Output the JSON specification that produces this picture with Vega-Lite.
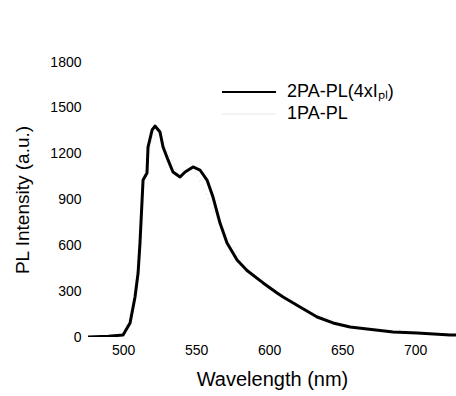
{
  "$schema": "https://vega.github.io/schema/vega-lite/v6.json",
  "autosize": {"type": "none"},
  "width": 368,
  "height": 275,
  "padding": {"left": 88, "top": 62, "right": 0, "bottom": 59},
  "background": "white",
  "config": {
    "view": {"stroke": null},
    "font": "Liberation Sans"
  },
  "data": {
    "values": [
      {"series": "2PA-PL(4xIₚₗ)", "wl": 476.0, "pl": 0},
      {"series": "2PA-PL(4xIₚₗ)", "wl": 490.0, "pl": 5},
      {"series": "2PA-PL(4xIₚₗ)", "wl": 500.0, "pl": 13},
      {"series": "2PA-PL(4xIₚₗ)", "wl": 504.8, "pl": 92},
      {"series": "2PA-PL(4xIₚₗ)", "wl": 508.2, "pl": 262},
      {"series": "2PA-PL(4xIₚₗ)", "wl": 510.3, "pl": 419},
      {"series": "2PA-PL(4xIₚₗ)", "wl": 511.6, "pl": 615},
      {"series": "2PA-PL(4xIₚₗ)", "wl": 513.7, "pl": 1027},
      {"series": "2PA-PL(4xIₚₗ)", "wl": 516.4, "pl": 1073},
      {"series": "2PA-PL(4xIₚₗ)", "wl": 517.1, "pl": 1243},
      {"series": "2PA-PL(4xIₚₗ)", "wl": 519.9, "pl": 1355},
      {"series": "2PA-PL(4xIₚₗ)", "wl": 521.9, "pl": 1381},
      {"series": "2PA-PL(4xIₚₗ)", "wl": 525.3, "pl": 1342},
      {"series": "2PA-PL(4xIₚₗ)", "wl": 527.4, "pl": 1244},
      {"series": "2PA-PL(4xIₚₗ)", "wl": 530.8, "pl": 1159},
      {"series": "2PA-PL(4xIₚₗ)", "wl": 534.2, "pl": 1080},
      {"series": "2PA-PL(4xIₚₗ)", "wl": 539.0, "pl": 1047},
      {"series": "2PA-PL(4xIₚₗ)", "wl": 542.5, "pl": 1080},
      {"series": "2PA-PL(4xIₚₗ)", "wl": 547.9, "pl": 1113},
      {"series": "2PA-PL(4xIₚₗ)", "wl": 552.7, "pl": 1093},
      {"series": "2PA-PL(4xIₚₗ)", "wl": 557.5, "pl": 1027},
      {"series": "2PA-PL(4xIₚₗ)", "wl": 561.6, "pl": 916},
      {"series": "2PA-PL(4xIₚₗ)", "wl": 566.4, "pl": 746},
      {"series": "2PA-PL(4xIₚₗ)", "wl": 571.2, "pl": 615},
      {"series": "2PA-PL(4xIₚₗ)", "wl": 578.1, "pl": 504},
      {"series": "2PA-PL(4xIₚₗ)", "wl": 584.9, "pl": 435},
      {"series": "2PA-PL(4xIₚₗ)", "wl": 595.9, "pl": 354},
      {"series": "2PA-PL(4xIₚₗ)", "wl": 605.5, "pl": 288},
      {"series": "2PA-PL(4xIₚₗ)", "wl": 609.6, "pl": 262},
      {"series": "2PA-PL(4xIₚₗ)", "wl": 621.2, "pl": 196},
      {"series": "2PA-PL(4xIₚₗ)", "wl": 632.9, "pl": 131},
      {"series": "2PA-PL(4xIₚₗ)", "wl": 643.8, "pl": 92},
      {"series": "2PA-PL(4xIₚₗ)", "wl": 655.5, "pl": 65},
      {"series": "2PA-PL(4xIₚₗ)", "wl": 667.1, "pl": 52},
      {"series": "2PA-PL(4xIₚₗ)", "wl": 684.9, "pl": 33},
      {"series": "2PA-PL(4xIₚₗ)", "wl": 701.4, "pl": 26},
      {"series": "2PA-PL(4xIₚₗ)", "wl": 724.0, "pl": 13},
      {"series": "2PA-PL(4xIₚₗ)", "wl": 728.0, "pl": 13},
      {"series": "1PA-PL", "wl": 476.0, "pl": 0},
      {"series": "1PA-PL", "wl": 500.0, "pl": 13},
      {"series": "1PA-PL", "wl": 508.2, "pl": 262},
      {"series": "1PA-PL", "wl": 513.7, "pl": 1027},
      {"series": "1PA-PL", "wl": 521.9, "pl": 1381},
      {"series": "1PA-PL", "wl": 539.0, "pl": 1047},
      {"series": "1PA-PL", "wl": 547.9, "pl": 1113},
      {"series": "1PA-PL", "wl": 566.4, "pl": 746},
      {"series": "1PA-PL", "wl": 584.9, "pl": 435},
      {"series": "1PA-PL", "wl": 621.2, "pl": 196},
      {"series": "1PA-PL", "wl": 655.5, "pl": 65},
      {"series": "1PA-PL", "wl": 728.0, "pl": 13}
    ]
  },
  "encoding": {
    "x": {
      "field": "wl", "type": "quantitative",
      "scale": {"domain": [476, 728], "nice": false, "zero": false},
      "axis": {
        "values": [500, 550, 600, 650, 700],
        "format": "d",
        "title": "Wavelength (nm)",
        "domain": false, "ticks": false, "grid": false,
        "labelFont": "Liberation Sans", "labelFontSize": 14, "labelColor": "black",
        "labelPadding": 6,
        "titleFont": "Liberation Sans", "titleFontSize": 20, "titleFontWeight": "normal", "titleColor": "black",
        "titlePadding": 12
      }
    },
    "y": {
      "field": "pl", "type": "quantitative",
      "scale": {"domain": [0, 1800], "nice": false},
      "axis": {
        "values": [0, 300, 600, 900, 1200, 1500, 1800],
        "format": "d",
        "title": "PL Intensity (a.u.)",
        "domain": false, "ticks": false, "grid": false,
        "labelFont": "Liberation Sans", "labelFontSize": 14, "labelColor": "black",
        "labelPadding": 7,
        "titleFont": "Liberation Sans", "titleFontSize": 19, "titleFontWeight": "normal", "titleColor": "black",
        "titlePadding": 17
      }
    },
    "color": {
      "field": "series", "type": "nominal",
      "scale": {"domain": ["2PA-PL(4xIₚₗ)", "1PA-PL"], "range": ["black", "#f4f4f4"]},
      "legend": {
        "title": null,
        "orient": "none",
        "legendX": 151,
        "legendY": 20,
        "padding": 0,
        "symbolType": "M-3,0H3",
        "symbolSize": 324,
        "symbolStrokeWidth": 2,
        "labelFont": "Liberation Sans",
        "labelFontSize": 18,
        "labelColor": "black",
        "labelOffset": 28,
        "rowPadding": 3
      }
    }
  },
  "layer": [
    {
      "transform": [{"filter": "datum.series == '1PA-PL'"}],
      "mark": {"type": "line", "strokeWidth": 2, "strokeDash": [2, 3], "clip": true}
    },
    {
      "transform": [{"filter": "datum.series != '1PA-PL'"}],
      "mark": {"type": "line", "strokeWidth": 3, "strokeJoin": "round", "clip": true}
    }
  ]
}
